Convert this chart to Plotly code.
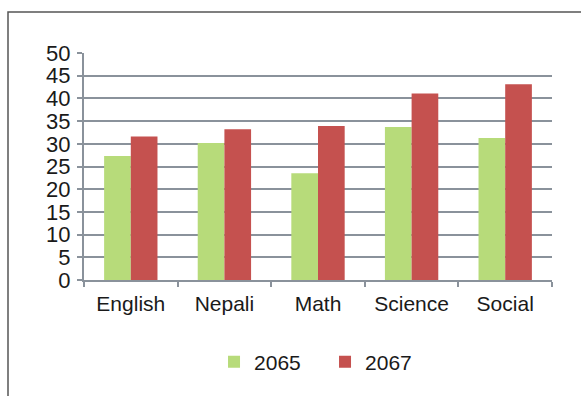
import plotly.graph_objects as go

categories = ["English", "Nepali", "Math", "Science", "Social"]
values_2065 = [27.3, 30.2, 23.5, 33.7, 31.3]
values_2067 = [31.6, 33.2, 33.9, 41.1, 43.1]
y_ticks = list(range(0, 51, 5))

W, H = 581, 396
L, R, T, B = 84, 29, 53, 116

fig = go.Figure()
fig.add_trace(go.Bar(name="2065", x=categories, y=values_2065, marker_color="#B7DB7A",
                     marker_line_width=0))
fig.add_trace(go.Bar(name="2067", x=categories, y=values_2067, marker_color="#C5514F",
                     marker_line_width=0))

pw = W - L - R
ph = H - T - B
fig.update_layout(
    width=W, height=H,
    margin=dict(l=L, r=R, t=T, b=B),
    paper_bgcolor="white", plot_bgcolor="white",
    barmode="group", bargap=0.43, bargroupgap=0,
    font=dict(family="Liberation Sans, Arial, sans-serif", size=21, color="#1a1a1a"),
    showlegend=True,
    legend=dict(orientation="h", x=0.515, xanchor="center", y=-(362 - (T + ph)) / ph,
                yanchor="middle", font=dict(size=21), itemwidth=30, tracegroupgap=0,
                entrywidth=66, entrywidthmode="pixels"),
    xaxis=dict(showgrid=False, showline=True, linecolor="#8A929B", linewidth=2,
               ticks="outside", ticklen=5, tickcolor="#8A929B", tickwidth=1.5,
               tickson="boundaries", tickfont=dict(size=21), ticklabelstandoff=4),
    yaxis=dict(range=[0, 50], tickvals=y_ticks, showgrid=True, gridcolor="#8A929B", gridwidth=2,
               showline=True, linecolor="#8A929B", linewidth=2, ticks="outside", ticklen=5,
               tickcolor="#8A929B", tickwidth=1.5, zeroline=False, tickfont=dict(size=22),
               ticklabelstandoff=2),
    shapes=[dict(type="rect", xref="paper", yref="paper",
                 x0=(8 - L) / pw, x1=(W + 10 - L) / pw,
                 y0=-(H + 10 - T - ph) / ph, y1=(ph + T - 12) / ph,
                 line=dict(color="#555555", width=1.5), fillcolor="rgba(0,0,0,0)")],
)

fig.write_html("out.html")
